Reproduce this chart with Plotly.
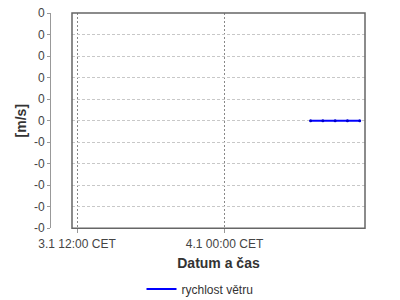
import plotly.graph_objects as go

times = ["2024-01-04 07:00", "2024-01-04 08:00", "2024-01-04 09:00",
         "2024-01-04 10:00", "2024-01-04 11:00"]
speed = [0, 0, 0, 0, 0]
series_name = "rychlost větru"

x_tick_vals = ["2024-01-03 12:00", "2024-01-04 00:00"]
x_tick_text = ["3.1 12:00 CET", "4.1 00:00 CET"]
y_tick_vals = [0.5, 0.4, 0.3, 0.2, 0.1, 0.0, -0.1, -0.2, -0.3, -0.4, -0.5]
y_tick_text = ["0", "0", "0", "0", "0", "0", "-0", "-0", "-0", "-0", "-0"]

font = "Liberation Sans, Arial, sans-serif"

fig = go.Figure()
fig.add_trace(go.Scatter(
    x=times, y=speed, name=series_name, mode="lines",
    line=dict(color="#0000ff", width=2),
))
fig.add_trace(go.Scatter(
    x=times, y=speed, mode="markers", showlegend=False, hoverinfo="skip",
    marker=dict(color="#0000cc", size=3),
))

fig.update_layout(
    width=400, height=300,
    margin=dict(l=50, r=35, t=6, b=67),
    paper_bgcolor="white", plot_bgcolor="white",
    font=dict(family=font, size=12, color="#444444"),
    showlegend=True,
    legend=dict(orientation="h", x=0.5, xref="container", xanchor="center",
                y=1 - 289 / 300, yref="container", yanchor="middle",
                font=dict(size=12, color="#333333"), itemwidth=30),
    xaxis=dict(
        domain=[22 / 315, 1], type="date",
        range=["2024-01-03 11:35:30", "2024-01-04 11:25:45"],
        tickvals=x_tick_vals, ticktext=x_tick_text,
        showgrid=True, gridcolor="#888888", griddash="2px,2px", gridwidth=1,
        ticks="outside", ticklen=4, tickcolor="#999999",
        showline=False, zeroline=False,
        tickfont=dict(size=12, color="#444444"),
        title=dict(text="<b>Datum a čas</b>", font=dict(size=14, color="#333333"), standoff=8),
    ),
    yaxis=dict(
        anchor="free", position=0, range=[-0.5002, 0.5002],
        tickvals=y_tick_vals, ticktext=y_tick_text,
        ticklabeloverflow="allow",
        showgrid=True, gridcolor="#c8c8c8", griddash="3px,2px", gridwidth=1,
        ticks="outside", ticklen=3, tickcolor="#999999",
        showline=True, linecolor="#999999", linewidth=1,
        zeroline=False,
        tickfont=dict(size=12, color="#444444"),
        title=dict(text="<b>[m/s]</b>", font=dict(size=14, color="#333333"), standoff=3),
    ),
    shapes=[dict(type="rect", xref="x domain", yref="y domain", x0=0, x1=1, y0=0, y1=1,
                 line=dict(color="#666666", width=1.5), layer="above")],
)

fig.write_html("out.html")
